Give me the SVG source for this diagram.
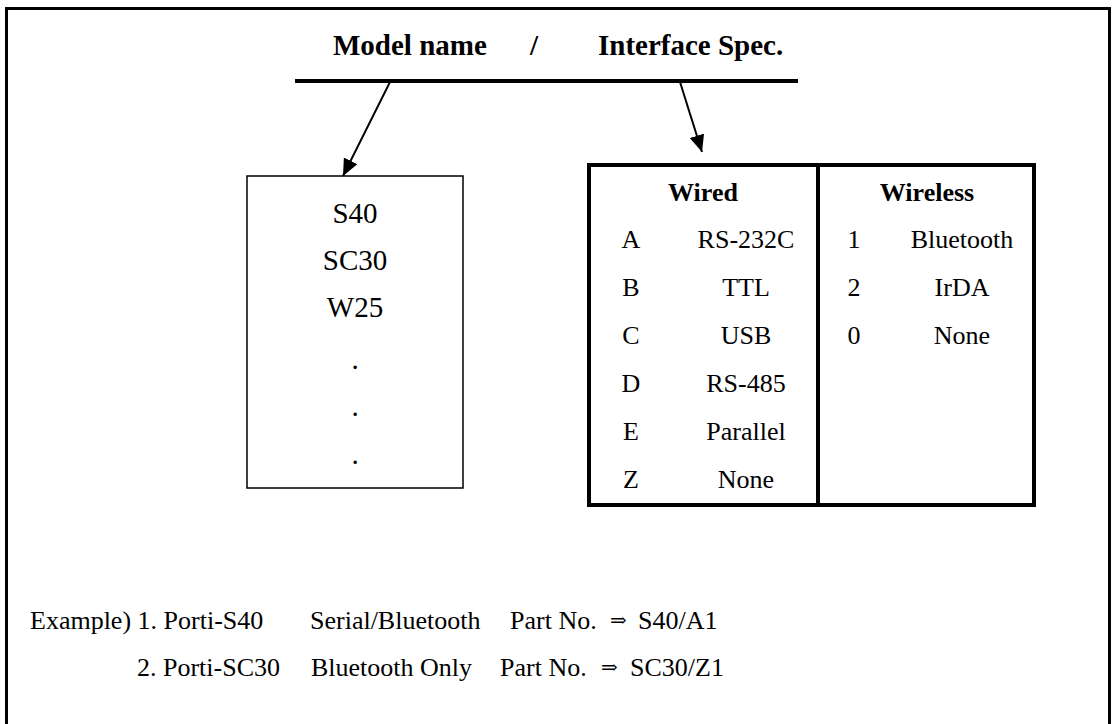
<svg xmlns="http://www.w3.org/2000/svg" width="1112" height="724" viewBox="0 0 1112 724">
<style>
text{font-family:"Liberation Serif","Times New Roman","DejaVu Serif",serif;fill:#000}
.t{font-size:26px}
.m{font-size:29px;text-anchor:middle}
.b{font-size:29px;font-weight:bold}
.h{font-size:26px;font-weight:bold;text-anchor:middle}
.c{text-anchor:middle}
.box{fill:#fff;stroke:#000}
.conn{stroke:#000;stroke-width:2;fill:none}
</style>
<defs>
<marker id="ah" markerUnits="userSpaceOnUse" markerWidth="18" markerHeight="16" refX="17" refY="7.5" orient="auto">
<path d="M0,0 L17,7.5 L0,15 z" fill="#000"/>
</marker>
</defs>
<rect x="0" y="0" width="1112" height="724" fill="#fff"/>
<rect id="frame" x="6.5" y="8.5" width="1103" height="740" fill="none" stroke="#000" stroke-width="3"/>
<g id="header">
<text class="b" x="333" y="55">Model name</text>
<text class="b" x="530" y="55">/</text>
<text class="b" x="598" y="55">Interface Spec.</text>
<line x1="295" y1="81" x2="798" y2="81" stroke="#000" stroke-width="4"/>
</g>
<g id="connectors">
<line class="conn" x1="390" y1="82" x2="343" y2="176" marker-end="url(#ah)"/>
<line class="conn" x1="680" y1="82" x2="702" y2="152" marker-end="url(#ah)"/>
</g>
<g id="models">
<rect class="box" x="247" y="176" width="216" height="312" stroke-width="1.5"/>
<text class="m" x="355" y="223">S40</text>
<text class="m" x="355" y="270">SC30</text>
<text class="m" x="355" y="317">W25</text>
<text class="m" x="355" y="369">.</text>
<text class="m" x="355" y="416">.</text>
<text class="m" x="355" y="464">.</text>
</g>
<g id="interface">
<rect class="box" x="589" y="165" width="445" height="340" stroke-width="4"/>
<line x1="818" y1="165" x2="818" y2="505" stroke="#000" stroke-width="4"/>
<text class="h" x="703" y="201">Wired</text>
<text class="h" x="927" y="201">Wireless</text>
<g class="t">
<text class="c" x="631" y="248">A</text><text class="c" x="746" y="248">RS-232C</text>
<text class="c" x="631" y="296">B</text><text class="c" x="746" y="296">TTL</text>
<text class="c" x="631" y="344">C</text><text class="c" x="746" y="344">USB</text>
<text class="c" x="631" y="392">D</text><text class="c" x="746" y="392">RS-485</text>
<text class="c" x="631" y="440">E</text><text class="c" x="746" y="440">Parallel</text>
<text class="c" x="631" y="488">Z</text><text class="c" x="746" y="488">None</text>
<text class="c" x="854" y="248">1</text><text class="c" x="962" y="248">Bluetooth</text>
<text class="c" x="854" y="296">2</text><text class="c" x="962" y="296">IrDA</text>
<text class="c" x="854" y="344">0</text><text class="c" x="962" y="344">None</text>
</g>
</g>
<g id="examples" class="t">
<text x="30" y="629">Example) 1. Porti-S40</text>
<text x="310" y="629">Serial/Bluetooth</text>
<text x="510" y="629">Part No.</text>
<text x="610" y="627" style="font-size:20px">⇒</text>
<text x="638" y="629">S40/A1</text>
<text x="137" y="676">2. Porti-SC30</text>
<text x="311" y="676">Bluetooth Only</text>
<text x="500" y="676">Part No.</text>
<text x="601" y="674" style="font-size:20px">⇒</text>
<text x="630" y="676">SC30/Z1</text>
</g>
</svg>
